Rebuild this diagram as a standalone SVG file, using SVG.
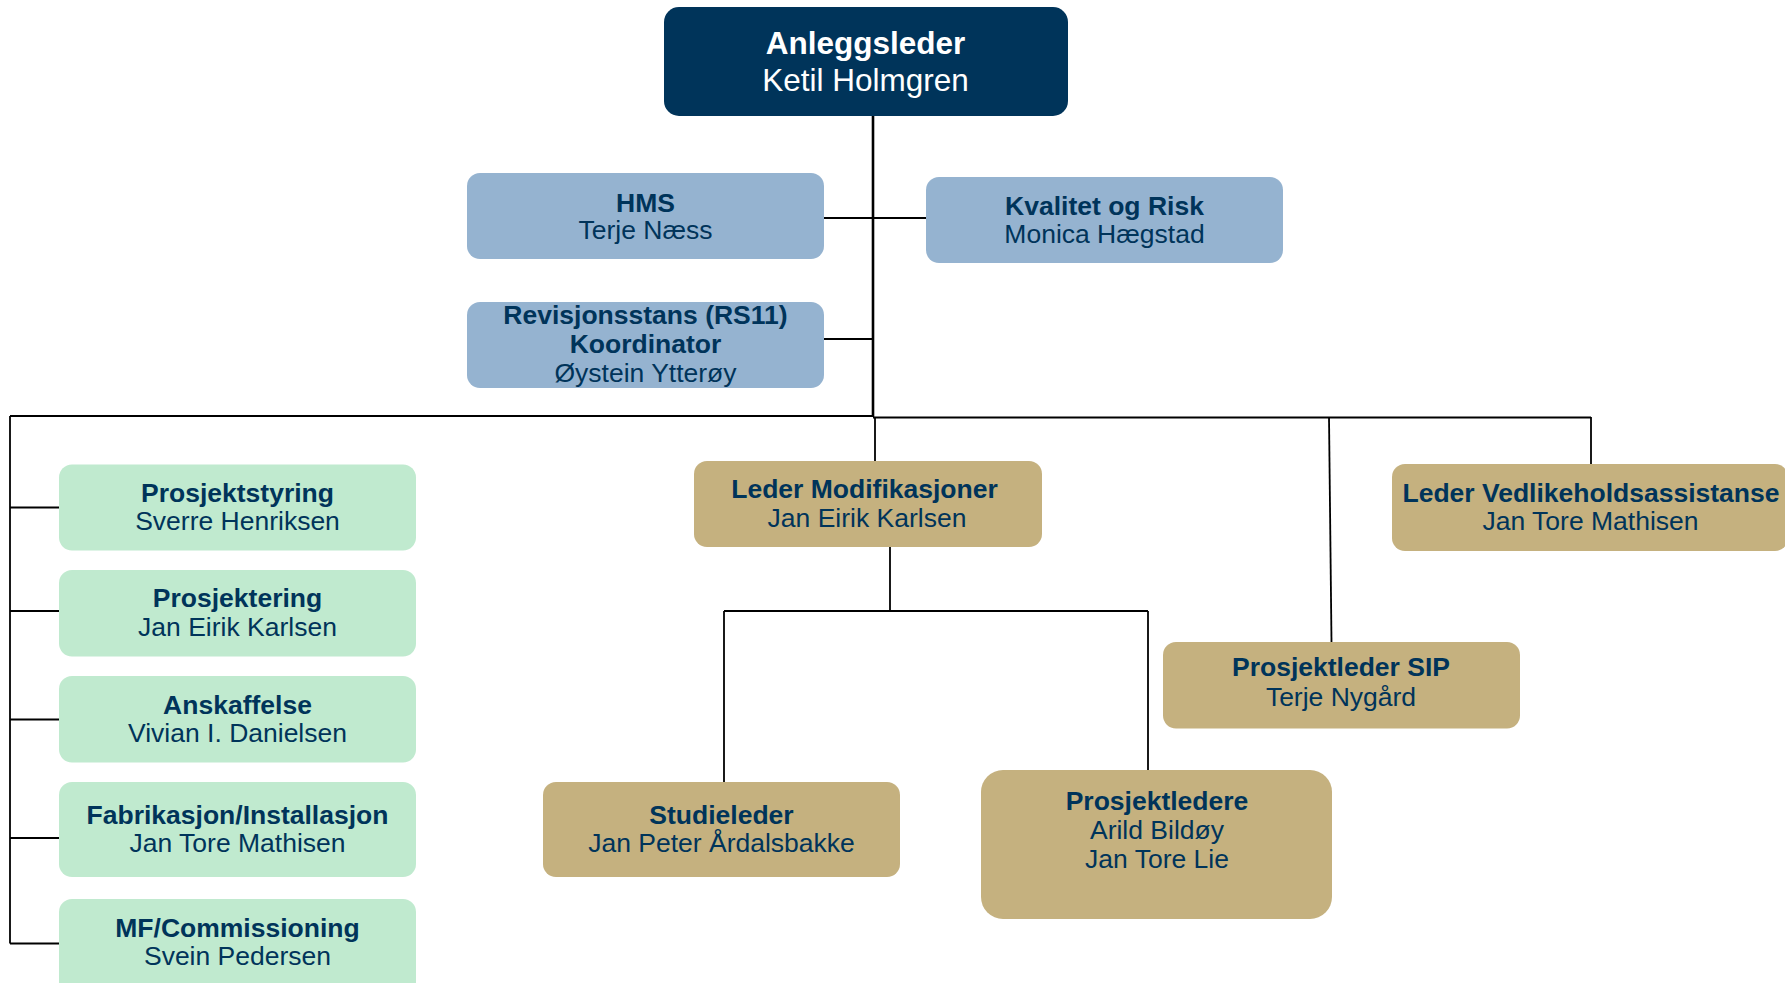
<svg xmlns="http://www.w3.org/2000/svg" width="1785" height="983" viewBox="0 0 1785 983">
<style>
  .top{fill:#00345A}
  .blue{fill:#95B3D0}
  .green{fill:#C0EACF}
  .gold{fill:#C5B17F}
  text{font-family:"Liberation Sans",Arial,sans-serif;text-anchor:middle;fill:#00345A;font-size:26.5px}
  .b{font-weight:bold}
  .w{fill:#FFFFFF;font-size:31.5px}
  .ln{stroke:#000;stroke-width:1.8;fill:none}
  .trunk{stroke:#000;stroke-width:2.6;fill:none}
</style>
<rect width="1785" height="983" fill="#FFFFFF"/>
<g id="connectors">
  <path class="trunk" d="M873,116 V417"/>
  <path class="ln" d="M824,218 H926"/>
  <path class="ln" d="M824,339 H873"/>
  <path class="ln" d="M10,416 H873"/>
  <path class="ln" d="M873,417.5 H1591"/>
  <path class="ln" d="M875,417 V461"/>
  <path class="ln" d="M1329,417 L1331.5,642"/>
  <path class="ln" d="M1591,417 V464"/>
  <path class="ln" d="M890,547 V611"/>
  <path class="ln" d="M724,611 H1148"/>
  <path class="ln" d="M724,611 V782"/>
  <path class="ln" d="M1148,611 V770"/>
  <path class="ln" d="M10,416 V943.5"/>
  <path class="ln" d="M10,507.5 H59"/>
  <path class="ln" d="M10,611 H59"/>
  <path class="ln" d="M10,719.5 H59"/>
  <path class="ln" d="M10,838 H59"/>
  <path class="ln" d="M10,943.5 H59"/>
</g>
<g id="anleggsleder">
  <rect class="top" x="664" y="7" width="404" height="109" rx="15"/>
  <text class="w b" x="865.5" y="54">Anleggsleder</text>
  <text class="w" x="865.5" y="91">Ketil Holmgren</text>
</g>
<g id="hms">
  <rect class="blue" x="467" y="173" width="357" height="86" rx="13"/>
  <text class="b" x="645.5" y="211.5">HMS</text>
  <text x="645.5" y="239">Terje Næss</text>
</g>
<g id="rs11">
  <rect class="blue" x="467" y="302" width="357" height="86" rx="13"/>
  <text class="b" x="645.5" y="324">Revisjonsstans (RS11)</text>
  <text class="b" x="645.5" y="353">Koordinator</text>
  <text x="645.5" y="381.5">Øystein Ytterøy</text>
</g>
<g id="kvalitet">
  <rect class="blue" x="926" y="177" width="357" height="86" rx="13"/>
  <text class="b" x="1104.5" y="214.5">Kvalitet og Risk</text>
  <text x="1104.5" y="242.5">Monica Hægstad</text>
</g>
<g id="prosjektstyring">
  <rect class="green" x="59" y="464.5" width="357" height="86" rx="13"/>
  <text class="b" x="237.5" y="501.5">Prosjektstyring</text>
  <text x="237.5" y="530">Sverre Henriksen</text>
</g>
<g id="prosjektering">
  <rect class="green" x="59" y="570" width="357" height="86.5" rx="13"/>
  <text class="b" x="237.5" y="606.5">Prosjektering</text>
  <text x="237.5" y="636">Jan Eirik Karlsen</text>
</g>
<g id="anskaffelse">
  <rect class="green" x="59" y="676" width="357" height="86.5" rx="13"/>
  <text class="b" x="237.5" y="713.5">Anskaffelse</text>
  <text x="237.5" y="742">Vivian I. Danielsen</text>
</g>
<g id="fabrikasjon">
  <rect class="green" x="59" y="782" width="357" height="95" rx="13"/>
  <text class="b" x="237.5" y="824">Fabrikasjon/Installasjon</text>
  <text x="237.5" y="852">Jan Tore Mathisen</text>
</g>
<g id="mf">
  <rect class="green" x="59" y="899" width="357" height="100" rx="13"/>
  <text class="b" x="237.5" y="936.5">MF/Commissioning</text>
  <text x="237.5" y="965">Svein Pedersen</text>
</g>
<g id="leder-modifikasjoner">
  <rect class="gold" x="694" y="461" width="348" height="86" rx="13"/>
  <text class="b" x="864.5" y="497.5">Leder Modifikasjoner</text>
  <text x="867" y="527">Jan Eirik Karlsen</text>
</g>
<g id="leder-vedlikehold">
  <rect class="gold" x="1392" y="464" width="396" height="87" rx="13"/>
  <text class="b" x="1591" y="501.5">Leder Vedlikeholdsassistanse</text>
  <text x="1590.5" y="529.5">Jan Tore Mathisen</text>
</g>
<g id="prosjektleder-sip">
  <rect class="gold" x="1163" y="642" width="357" height="86.5" rx="13"/>
  <text class="b" x="1341" y="676">Prosjektleder SIP</text>
  <text x="1341" y="705.5">Terje Nygård</text>
</g>
<g id="studieleder">
  <rect class="gold" x="543" y="782" width="357" height="95" rx="13"/>
  <text class="b" x="721.5" y="824">Studieleder</text>
  <text x="721.5" y="851.5">Jan Peter Årdalsbakke</text>
</g>
<g id="prosjektledere">
  <rect class="gold" x="981" y="770" width="351" height="149" rx="22"/>
  <text class="b" x="1157" y="809.5">Prosjektledere</text>
  <text x="1157" y="839">Arild Bildøy</text>
  <text x="1157" y="867.5">Jan Tore Lie</text>
</g>
</svg>
